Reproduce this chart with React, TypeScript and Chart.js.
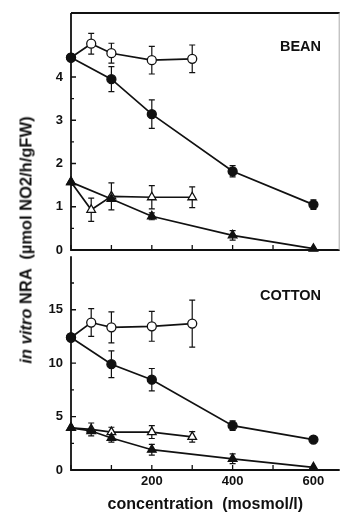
import React, { useEffect, useRef } from "react";
import { Chart, registerables } from "chart.js";

Chart.register(...registerables);

const FONT_FAMILY = '"Liberation Sans", Arial, Helvetica, sans-serif';
Chart.defaults.font.family = FONT_FAMILY;

// ---- axis ticks ----
const X_TICKS = [0, 100, 200, 300, 400, 500, 600];
const X_LABELS = ["", "", "200", "", "400", "", "600"];
const BEAN_Y_TICKS = [0, 1, 2, 3, 4];
const COTTON_Y_TICKS = [0, 5, 10, 15];

// ---- BEAN ----
const beanOpenCircleX = [0, 50, 100, 200, 300];
const beanOpenCircleY = [4.45, 4.77, 4.55, 4.39, 4.42];
const beanOpenCircleErr = [0, 0.24, 0.23, 0.32, 0.32];

const beanFilledCircleX = [0, 100, 200, 400, 600];
const beanFilledCircleY = [4.45, 3.95, 3.14, 1.82, 1.05];
const beanFilledCircleErr = [0, 0.29, 0.33, 0.13, 0.11];

const beanOpenTriangleX = [0, 50, 100, 200, 300];
const beanOpenTriangleY = [1.57, 0.93, 1.24, 1.22, 1.22];
const beanOpenTriangleErr = [0, 0.27, 0.31, 0.27, 0.24];

const beanFilledTriangleX = [0, 100, 200, 400, 600];
const beanFilledTriangleY = [1.57, 1.18, 0.78, 0.34, 0.03];
const beanFilledTriangleErr = [0, 0, 0.08, 0.11, 0];

// ---- COTTON ----
const cottonOpenCircleX = [0, 50, 100, 200, 300];
const cottonOpenCircleY = [12.4, 13.8, 13.35, 13.45, 13.7];
const cottonOpenCircleErr = [0, 1.3, 1.45, 1.4, 2.2];

const cottonFilledCircleX = [0, 100, 200, 400, 600];
const cottonFilledCircleY = [12.4, 9.9, 8.45, 4.15, 2.85];
const cottonFilledCircleErr = [0, 1.25, 1.05, 0.45, 0];

const cottonOpenTriangleX = [0, 50, 100, 200, 300];
const cottonOpenTriangleY = [3.95, 3.8, 3.55, 3.55, 3.1];
const cottonOpenTriangleErr = [0, 0.6, 0.45, 0.6, 0.5];

const cottonFilledTriangleX = [0, 50, 100, 200, 400, 600];
const cottonFilledTriangleY = [3.95, 3.65, 3.0, 1.9, 1.05, 0.25];
const cottonFilledTriangleErr = [0, 0, 0.4, 0.5, 0.45, 0];

type Series = {
  label: string;
  xs: number[];
  ys: number[];
  errs: number[];
  shape: "circle" | "triangle";
  filled: boolean;
};

const INK = "#111";

function toDataset(s: Series) {
  return {
    label: s.label,
    data: s.xs.map((x, i) => ({ x, y: s.ys[i] })),
    errs: s.errs,
    showLine: true,
    borderColor: INK,
    borderWidth: 1.7,
    pointStyle: s.shape,
    pointRadius: s.shape === "circle" ? 4.5 : 5,
    pointBackgroundColor: s.filled ? INK : "#fff",
    pointBorderColor: INK,
    pointBorderWidth: 1.3,
    clip: false,
    tension: 0,
    order: s.filled ? 0 : 1,
  };
}

const decorPlugin = {
  id: "panelDecor",
  beforeDatasetsDraw(chart: any) {
    const { ctx } = chart;
    const x = chart.scales.x;
    const y = chart.scales.y;
    ctx.save();
    ctx.strokeStyle = INK;
    ctx.lineWidth = 1.2;
    chart.data.datasets.forEach((ds: any) => {
      const errs: number[] = ds.errs || [];
      ds.data.forEach((p: any, i: number) => {
        const e = errs[i];
        if (!e) return;
        const px = x.getPixelForValue(p.x);
        const y1 = y.getPixelForValue(p.y + e);
        const y2 = y.getPixelForValue(p.y - e);
        ctx.beginPath();
        ctx.moveTo(px, y1);
        ctx.lineTo(px, y2);
        ctx.moveTo(px - 3, y1);
        ctx.lineTo(px + 3, y1);
        ctx.moveTo(px - 3, y2);
        ctx.lineTo(px + 3, y2);
        ctx.stroke();
      });
    });
    ctx.restore();
  },
  afterDraw(chart: any, _args: any, opts: any) {
    const { ctx, chartArea } = chart;
    const { left, right, top, bottom } = chartArea;
    const x = chart.scales.x;
    const y = chart.scales.y;
    ctx.save();
    ctx.strokeStyle = INK;
    ctx.lineWidth = 1.8;
    ctx.beginPath();
    ctx.moveTo(left, top);
    ctx.lineTo(left, bottom);
    ctx.lineTo(right, bottom);
    if (opts.topBorder) {
      ctx.moveTo(left, top);
      ctx.lineTo(right, top);
    }
    ctx.stroke();
    if (opts.rightBorder) {
      ctx.strokeStyle = "#aaa";
      ctx.lineWidth = 1;
      ctx.beginPath();
      ctx.moveTo(right - 0.5, top);
      ctx.lineTo(right - 0.5, bottom);
      ctx.stroke();
    }
    // inward tick marks
    ctx.strokeStyle = INK;
    ctx.lineWidth = 1.3;
    ctx.beginPath();
    (opts.xTicks as number[]).forEach((v) => {
      const px = x.getPixelForValue(v);
      ctx.moveTo(px, bottom);
      ctx.lineTo(px, bottom - 5);
    });
    const yt = opts.yTicks as number[];
    const step = yt.length > 1 ? yt[1] - yt[0] : 1;
    yt.forEach((v) => {
      const py = y.getPixelForValue(v);
      ctx.moveTo(left, py);
      ctx.lineTo(left + 5, py);
      const mid = y.getPixelForValue(v + step / 2);
      if (mid > top) {
        ctx.moveTo(left, mid);
        ctx.lineTo(left + 3, mid);
      }
    });
    ctx.stroke();
    // panel label
    ctx.fillStyle = INK;
    ctx.font = `bold 14.5px ${FONT_FAMILY}`;
    ctx.textAlign = "right";
    ctx.textBaseline = "middle";
    ctx.fillText(opts.label, opts.labelX, opts.labelY);
    ctx.restore();
  },
};

type PanelProps = {
  width: number;
  height: number;
  series: Series[];
  yMax: number;
  yTicks: number[];
  padTop: number;
  xAxisHeight: number;
  showXLabels: boolean;
  label: string;
  labelY: number;
  topBorder: boolean;
  rightBorder: boolean;
};

function Panel(p: PanelProps) {
  const ref = useRef<HTMLCanvasElement | null>(null);
  useEffect(() => {
    if (!ref.current) return;
    const tickFont = { size: 13, weight: "bold" as const, family: FONT_FAMILY };
    const chart = new Chart(ref.current, {
      type: "scatter",
      data: { datasets: p.series.map(toDataset) as any },
      plugins: [decorPlugin],
      options: {
        animation: false,
        responsive: false,
        maintainAspectRatio: false,
        layout: { padding: { top: p.padTop, right: 1, left: 0, bottom: 0 } },
        plugins: {
          legend: { display: false },
          tooltip: { enabled: false },
          panelDecor: {
            label: p.label,
            labelX: 321,
            labelY: p.labelY,
            topBorder: p.topBorder,
            rightBorder: p.rightBorder,
            xTicks: X_TICKS,
            yTicks: p.yTicks,
          },
        } as any,
        scales: {
          x: {
            type: "linear",
            min: 0,
            max: 665,
            grid: { display: false, drawTicks: false },
            border: { display: false },
            afterBuildTicks: (s: any) => {
              s.ticks = X_TICKS.map((v) => ({ value: v }));
            },
            ticks: {
              display: p.showXLabels,
              padding: 4,
              color: INK,
              font: tickFont,
              maxRotation: 0,
              autoSkip: false,
              callback: (v: any) => X_LABELS[X_TICKS.indexOf(Number(v))] ?? "",
            },
            title: {
              display: p.showXLabels,
              text: "concentration  (mosmol/l)",
              color: INK,
              font: { size: 16, weight: "bold", family: FONT_FAMILY },
              padding: { top: 2, bottom: 3 },
            },
            afterFit: (s: any) => {
              s.height = p.xAxisHeight;
              s.paddingLeft = 0;
              s.paddingRight = 0;
            },
          },
          y: {
            type: "linear",
            min: 0,
            max: p.yMax,
            grid: { display: false, drawTicks: false },
            border: { display: false },
            afterBuildTicks: (s: any) => {
              s.ticks = p.yTicks.map((v) => ({ value: v }));
            },
            ticks: {
              padding: 8,
              color: INK,
              font: tickFont,
              callback: (v: any) => String(v),
            },
            afterFit: (s: any) => {
              s.width = 71;
              s.paddingTop = 0;
              s.paddingBottom = 0;
            },
          },
        },
      } as any,
    });
    return () => chart.destroy();
  }, []);
  return (
    <canvas
      ref={ref}
      width={p.width}
      height={p.height}
      style={{ width: p.width, height: p.height, display: "block" }}
    />
  );
}

const beanSeries: Series[] = [
  { label: "bean open circle", xs: beanOpenCircleX, ys: beanOpenCircleY, errs: beanOpenCircleErr, shape: "circle", filled: false },
  { label: "bean filled circle", xs: beanFilledCircleX, ys: beanFilledCircleY, errs: beanFilledCircleErr, shape: "circle", filled: true },
  { label: "bean open triangle", xs: beanOpenTriangleX, ys: beanOpenTriangleY, errs: beanOpenTriangleErr, shape: "triangle", filled: false },
  { label: "bean filled triangle", xs: beanFilledTriangleX, ys: beanFilledTriangleY, errs: beanFilledTriangleErr, shape: "triangle", filled: true },
];

const cottonSeries: Series[] = [
  { label: "cotton open circle", xs: cottonOpenCircleX, ys: cottonOpenCircleY, errs: cottonOpenCircleErr, shape: "circle", filled: false },
  { label: "cotton filled circle", xs: cottonFilledCircleX, ys: cottonFilledCircleY, errs: cottonFilledCircleErr, shape: "circle", filled: true },
  { label: "cotton open triangle", xs: cottonOpenTriangleX, ys: cottonOpenTriangleY, errs: cottonOpenTriangleErr, shape: "triangle", filled: false },
  { label: "cotton filled triangle", xs: cottonFilledTriangleX, ys: cottonFilledTriangleY, errs: cottonFilledTriangleErr, shape: "triangle", filled: true },
];

export default function App() {
  return (
    <div
      style={{
        position: "absolute",
        left: 0,
        top: 0,
        width: 346,
        height: 517,
        background: "#fff",
        overflow: "hidden",
      }}
    >
      <div style={{ position: "absolute", left: 0, top: 250 }}>
        <Panel
          width={346}
          height={267}
          series={cottonSeries}
          yMax={20}
          yTicks={COTTON_Y_TICKS}
          padTop={0}
          xAxisHeight={47}
          showXLabels={true}
          label="COTTON"
          labelY={46}
          topBorder={false}
          rightBorder={false}
        />
      </div>
      <div style={{ position: "absolute", left: 0, top: 0 }}>
        <Panel
          width={346}
          height={262}
          series={beanSeries}
          yMax={5.48}
          yTicks={BEAN_Y_TICKS}
          padTop={13}
          xAxisHeight={12}
          showXLabels={false}
          label="BEAN"
          labelY={47}
          topBorder={true}
          rightBorder={true}
        />
      </div>
      <div
        style={{
          position: "absolute",
          left: 26,
          top: 240,
          transform: "translate(-50%, -50%) rotate(-90deg)",
          whiteSpace: "pre",
          font: `bold 16.5px ${FONT_FAMILY}`,
          color: INK,
        }}
      >
        <i>in vitro</i>
        {" NRA  (µmol NO2/h/gFW)"}
      </div>
    </div>
  );
}
